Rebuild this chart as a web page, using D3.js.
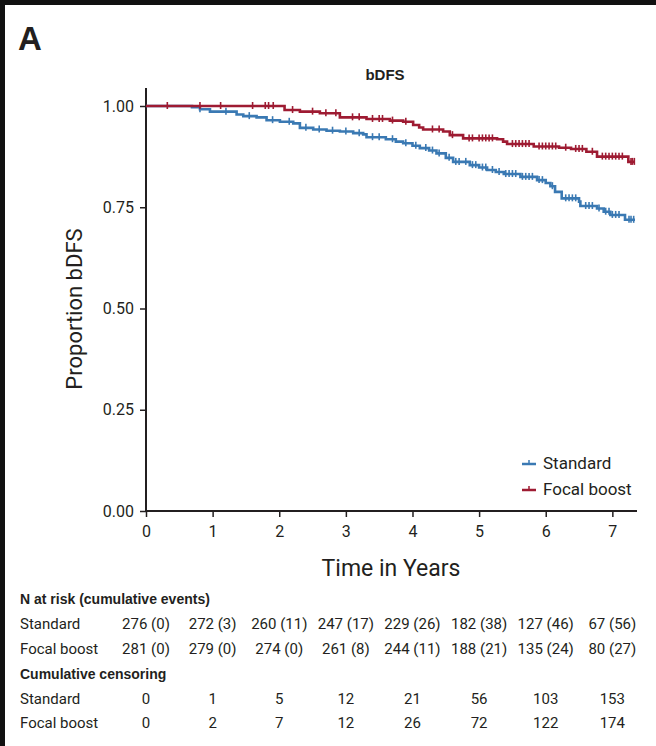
<!DOCTYPE html>
<html>
<head>
<meta charset="utf-8">
<script src="https://cdn.jsdelivr.net/npm/d3@7"></script>
<style>
  body { margin: 0; background: #fff; }
  text { font-family: "Liberation Sans Narrow", "Arial Narrow", "Roboto", sans-serif; fill: #231f20; }
  .bold { font-family: "Liberation Sans", Arial, sans-serif; font-weight: bold; }
</style>
</head>
<body>
<div id="chart"></div>
<script>
// years shown on the x axis / risk table columns
const years = [0, 1, 2, 3, 4, 5, 6, 7];
const yTicks = [0, 0.25, 0.5, 0.75, 1];

// Kaplan-Meier steps [time, proportion]
const standardSteps = [[0, 1], [0.69, 0.997], [0.81, 0.992], [0.96, 0.986], [1.36, 0.979], [1.46, 0.975],
  [1.66, 0.972], [1.81, 0.965], [2.01, 0.961], [2.21, 0.957], [2.31, 0.946], [2.51, 0.942], [2.71, 0.939],
  [2.91, 0.937], [3.11, 0.933], [3.26, 0.930], [3.31, 0.923], [3.6, 0.918], [3.75, 0.912], [3.86, 0.908],
  [4.0, 0.902], [4.11, 0.896], [4.25, 0.890], [4.36, 0.883], [4.5, 0.872], [4.61, 0.862], [4.86, 0.854],
  [5.0, 0.848], [5.12, 0.842], [5.25, 0.837], [5.37, 0.832], [5.62, 0.825], [5.87, 0.817], [6.0, 0.810],
  [6.07, 0.802], [6.14, 0.788], [6.24, 0.772], [6.5, 0.764], [6.52, 0.753], [6.77, 0.747], [6.87, 0.739],
  [6.97, 0.731], [7.19, 0.719]];
const focalSteps = [[0, 1], [2.08, 0.990], [2.31, 0.986], [2.61, 0.982], [2.91, 0.972], [3.31, 0.968],
  [3.66, 0.964], [3.86, 0.961], [4.01, 0.953], [4.1, 0.947], [4.16, 0.942], [4.46, 0.937], [4.56, 0.928],
  [4.76, 0.920], [5.27, 0.918], [5.36, 0.912], [5.42, 0.906], [5.82, 0.900], [6.2, 0.897], [6.38, 0.894],
  [6.61, 0.887], [6.77, 0.875], [7.24, 0.862]];
const lastTime = 7.34;

// censoring times (tick marks)
const standardCensor = [0.81, 1.2, 1.55, 1.9, 2.15, 2.4, 2.6, 2.8, 3.0, 3.2, 3.4, 3.5, 3.7, 3.9, 4.05, 4.2, 4.3,
  4.4, 4.55, 4.65, 4.7, 4.8, 4.9, 4.95, 5.05, 5.1, 5.2, 5.3, 5.4, 5.45, 5.5, 5.55, 5.65, 5.7, 5.75, 5.8, 5.9,
  5.95, 6.1, 6.3, 6.35, 6.4, 6.45, 6.6, 6.65, 6.7, 6.8, 6.9, 6.95, 7.0, 7.05, 7.1, 7.25, 7.28, 7.32];
const focalCensor = [0.32, 0.81, 1.12, 1.6, 1.79, 1.84, 1.91, 2.2, 2.5, 2.7, 2.85, 3.1, 3.2, 3.4, 3.5, 3.55, 3.7,
  3.9, 4.3, 4.4, 4.6, 4.85, 4.9, 5.0, 5.05, 5.1, 5.15, 5.2, 5.5, 5.55, 5.6, 5.65, 5.7, 5.75, 5.9, 5.95, 6.0,
  6.05, 6.1, 6.15, 6.3, 6.45, 6.5, 6.55, 6.7, 6.85, 6.9, 6.95, 7.0, 7.05, 7.1, 7.15, 7.28, 7.3, 7.33];

// risk table
const atRiskStandard = ["276 (0)", "272 (3)", "260 (11)", "247 (17)", "229 (26)", "182 (38)", "127 (46)", "67 (56)"];
const atRiskFocal = ["281 (0)", "279 (0)", "274 (0)", "261 (8)", "244 (11)", "188 (21)", "135 (24)", "80 (27)"];
const censorStandard = ["0", "1", "5", "12", "21", "56", "103", "153"];
const censorFocal = ["0", "2", "7", "12", "26", "72", "122", "174"];

const colorStandard = "#3a79b3";
const colorFocal = "#9e1b32";

const width = 656, height = 746;
const svg = d3.select("#chart").append("svg")
  .attr("width", width).attr("height", height);

// black frame on top and left
svg.append("rect").attr("x", 0).attr("y", 0).attr("width", width).attr("height", 5).attr("fill", "#111");
svg.append("rect").attr("x", 0).attr("y", 0).attr("width", 5).attr("height", height).attr("fill", "#111");

svg.append("text").attr("class", "bold").attr("x", 18).attr("y", 50)
  .style("font-size", "33px").text("A");
svg.append("text").attr("class", "bold").attr("x", 385).attr("y", 80)
  .attr("text-anchor", "middle").style("font-size", "15px").text("bDFS");

const x = d3.scaleLinear().domain([0, 7.37]).range([146, 637]);
const y = d3.scaleLinear().domain([0, 1]).range([511, 106]);

// axes
const xAxis = svg.append("g").attr("transform", "translate(0,511)")
  .call(d3.axisBottom(x).tickValues(years).tickFormat(d3.format("d")).tickSize(6).tickPadding(9));
const yAxis = svg.append("g").attr("transform", "translate(146,0)")
  .call(d3.axisLeft(y).tickValues(yTicks).tickFormat(d3.format(".2f")).tickSize(6).tickPadding(6));
[xAxis, yAxis].forEach(g => {
  g.select(".domain").remove();
  g.selectAll("line").attr("stroke", "#231f20").attr("stroke-width", 1.5);
  g.selectAll("text").style("font-size", "16px").attr("fill", "#231f20");
});
svg.append("line").attr("x1", 146).attr("x2", 146).attr("y1", 88).attr("y2", 511)
  .attr("stroke", "#231f20").attr("stroke-width", 2);
svg.append("line").attr("x1", 145).attr("x2", 637).attr("y1", 511).attr("y2", 511)
  .attr("stroke", "#231f20").attr("stroke-width", 2);

svg.append("text").attr("transform", "translate(82,309) rotate(-90)")
  .attr("text-anchor", "middle").style("font-size", "22px").text("Proportion bDFS");
svg.append("text").attr("x", 391).attr("y", 576)
  .attr("text-anchor", "middle").style("font-size", "23px").text("Time in Years");

// curves
const line = d3.line().x(d => x(d[0])).y(d => y(d[1])).curve(d3.curveStepAfter);
const groups = [
  { steps: standardSteps, censor: standardCensor, color: colorStandard },
  { steps: focalSteps, censor: focalCensor, color: colorFocal }
];
const survAt = (steps, t) => {
  let s = 1;
  steps.forEach(d => { if (d[0] <= t) s = d[1]; });
  return s;
};
groups.forEach(g => {
  const pts = g.steps.concat([[lastTime, g.steps[g.steps.length - 1][1]]]);
  svg.append("path").datum(pts).attr("d", line)
    .attr("fill", "none").attr("stroke", g.color).attr("stroke-width", 2.6);
  svg.append("g").selectAll("line").data(g.censor).join("line")
    .attr("x1", d => x(d)).attr("x2", d => x(d))
    .attr("y1", d => y(survAt(g.steps, d)) - 4)
    .attr("y2", d => y(survAt(g.steps, d)) + 3)
    .attr("stroke", g.color).attr("stroke-width", 1.6);
});

// legend
const legend = [["Standard", colorStandard, 469], ["Focal boost", colorFocal, 495]];
legend.forEach(([label, color, ly]) => {
  svg.append("line").attr("x1", 522).attr("x2", 536).attr("y1", ly - 5).attr("y2", ly - 5)
    .attr("stroke", color).attr("stroke-width", 2.5);
  svg.append("line").attr("x1", 529).attr("x2", 529).attr("y1", ly - 9).attr("y2", ly - 5)
    .attr("stroke", color).attr("stroke-width", 1.5);
  svg.append("text").attr("x", 543).attr("y", ly).style("font-size", "17px").text(label);
});

// risk table
const tbl = svg.append("g");
const rowLabel = (txt, ty, bold) => tbl.append("text").attr("class", bold ? "bold" : null)
  .attr("x", 20).attr("y", ty).style("font-size", bold ? "14px" : "15px").text(txt);
const rowValues = (vals, ty) => tbl.append("g").selectAll("text").data(vals).join("text")
  .attr("x", (d, i) => x(years[i])).attr("y", ty).attr("text-anchor", "middle")
  .style("font-size", "15px").text(d => d);

rowLabel("N at risk (cumulative events)", 604, true);
rowLabel("Standard", 629); rowValues(atRiskStandard, 629);
rowLabel("Focal boost", 654); rowValues(atRiskFocal, 654);
rowLabel("Cumulative censoring", 679, true);
rowLabel("Standard", 704); rowValues(censorStandard, 704);
rowLabel("Focal boost", 728); rowValues(censorFocal, 728);
</script>
</body>
</html>
